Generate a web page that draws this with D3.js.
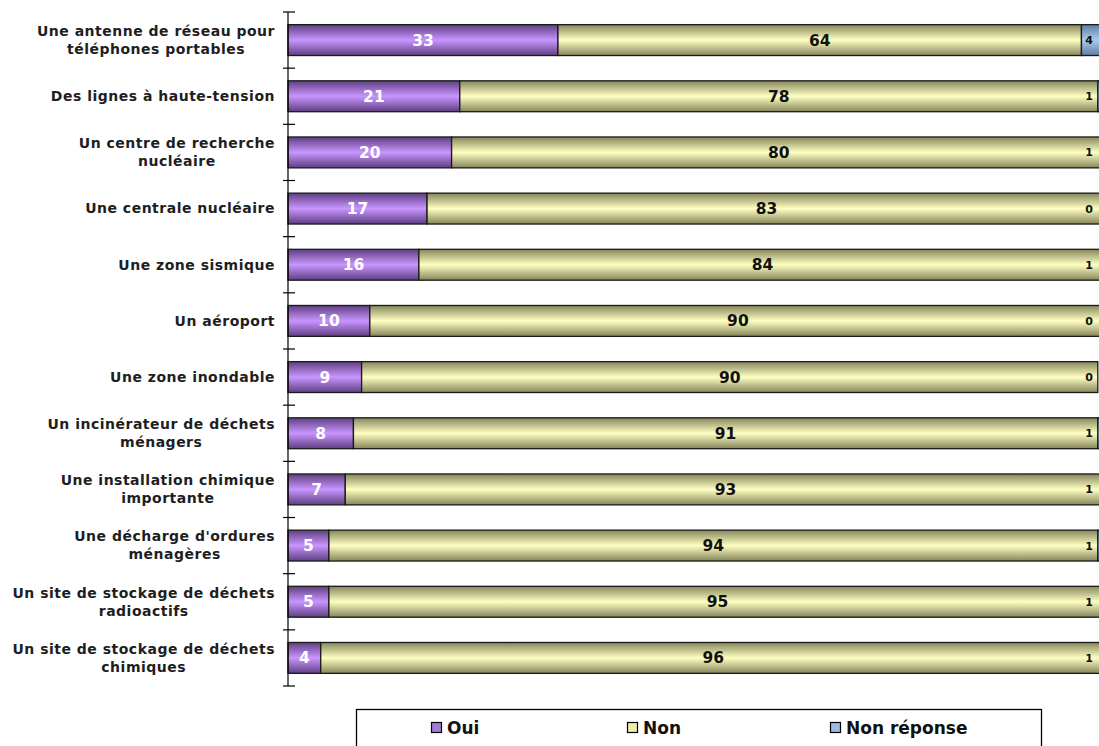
<!DOCTYPE html>
<html>
<head>
<meta charset="utf-8">
<script src="https://cdn.jsdelivr.net/npm/d3@7"></script>
<style>
  body { margin: 0; background: #fff; }
  svg { display: block; }
</style>
</head>
<body>
<div id="chart"></div>
<script>
// categories (each one is a list of label lines)
const categories = [
  ["Une antenne de réseau pour", "téléphones portables"],
  ["Des lignes à haute-tension"],
  ["Un centre de recherche", "nucléaire"],
  ["Une centrale nucléaire"],
  ["Une zone sismique"],
  ["Un aéroport"],
  ["Une zone inondable"],
  ["Un incinérateur de déchets", "ménagers"],
  ["Une installation chimique", "importante"],
  ["Une décharge d'ordures", "ménagères"],
  ["Un site de stockage de déchets", "radioactifs"],
  ["Un site de stockage de déchets", "chimiques"]
]
const oui = [33, 21, 20, 17, 16, 10, 9, 8, 7, 5, 5, 4]
const non = [64, 78, 80, 83, 84, 90, 90, 91, 93, 94, 95, 96]
const nonReponse = [4, 1, 1, 0, 1, 0, 0, 1, 1, 1, 1, 1]
const seriesNames = ["Oui", "Non", "Non réponse"]

const width = 1099, height = 746
const font = "'DejaVu Sans', Verdana, sans-serif"

const svg = d3.select("#chart").append("svg")
  .attr("width", width)
  .attr("height", height)

// vertical shading like the original bars
const shades = [
  {id: "g-oui", edge: "#5e3f80", mid: "#c995ff", sw: "#a57ad6"},
  {id: "g-non", edge: "#85855c", mid: "#ffffc2", sw: "#eeeeaa"},
  {id: "g-nr", edge: "#5f7d9e", mid: "#aacbf0", sw: "#9dbbe0"}
]
const defs = svg.append("defs")
shades.forEach(s => {
  const g = defs.append("linearGradient").attr("id", s.id)
    .attr("x1", 0).attr("x2", 0).attr("y1", 0).attr("y2", 1)
  g.append("stop").attr("offset", "0%").attr("stop-color", s.edge)
  g.append("stop").attr("offset", "50%").attr("stop-color", s.mid)
  g.append("stop").attr("offset", "100%").attr("stop-color", s.edge)
})

// plot runs a little past the right edge of the picture (cropped)
const x = d3.scaleLinear().domain([0, 100]).range([288, 1106])
const y = d3.scaleBand()
  .domain(d3.range(categories.length))
  .range([12, 686])
  .paddingInner(0.45)
  .paddingOuter(0.225)

const rows = categories.map((c, i) => ({i: i, Oui: oui[i], Non: non[i], "Non réponse": nonReponse[i]}))
const stacked = d3.stack().keys(seriesNames)(rows)

// bars
const layer = svg.append("g").selectAll("g")
  .data(stacked)
  .join("g")
  .attr("fill", (d, k) => `url(#${shades[k].id})`)

layer.selectAll("rect")
  .data(d => d)
  .join("rect")
  .attr("x", d => x(d[0]))
  .attr("y", d => y(d.data.i))
  .attr("width", d => x(d[1]) - x(d[0]))
  .attr("height", y.bandwidth())
  .attr("stroke", "#1a1a1a")
  .attr("stroke-width", 1.3)

// value labels
const labelStyle = [
  {fill: "#ffffff", size: 15.5},
  {fill: "#111111", size: 15.5},
  {fill: "#111111", size: 11}
]
stacked.forEach((s, k) => {
  svg.append("g").selectAll("text")
    .data(s)
    .join("text")
    .attr("x", d => {
      const c = (x(d[0]) + x(d[1])) / 2
      return k === 2 ? Math.min(c, width - 10) : c
    })
    .attr("y", d => y(d.data.i) + y.bandwidth() / 2)
    .attr("dy", "0.36em")
    .attr("text-anchor", "middle")
    .attr("font-family", font)
    .attr("font-weight", "bold")
    .attr("font-size", labelStyle[k].size)
    .attr("fill", labelStyle[k].fill)
    .text(d => d.data[s.key])
})

// axis line with crossing ticks at category boundaries
const axis = svg.append("g").attr("stroke", "#000").attr("stroke-width", 1.2)
axis.append("line")
  .attr("x1", x(0)).attr("x2", x(0))
  .attr("y1", y.range()[0]).attr("y2", y.range()[1])
axis.selectAll(".tick")
  .data(d3.range(categories.length + 1))
  .join("line")
  .attr("class", "tick")
  .attr("x1", x(0) - 5).attr("x2", x(0) + 7)
  .attr("y1", i => y.range()[0] + i * y.step())
  .attr("y2", i => y.range()[0] + i * y.step())

// category labels: block right aligned, lines centred in block
const labelRight = 275
const lineH = 18
categories.forEach((lines, i) => {
  const g = svg.append("g")
  const texts = g.selectAll("text")
    .data(lines)
    .join("text")
    .attr("font-family", font)
    .attr("font-weight", "bold")
    .attr("font-size", 14)
    .attr("letter-spacing", 0.5)
    .attr("fill", "#1e1e1e")
    .attr("text-anchor", "middle")
    .text(d => d)
  const widths = texts.nodes().map(n => n.getComputedTextLength())
  const blockW = d3.max(widths)
  const cy = y(i) + y.bandwidth() / 2
  texts
    .attr("x", labelRight - blockW / 2)
    .attr("y", (d, j) => cy + (j - (lines.length - 1) / 2) * lineH)
    .attr("dy", "0.35em")
})

// legend
const legend = svg.append("g")
legend.append("rect")
  .attr("x", 356.5).attr("y", 709.5)
  .attr("width", 685).attr("height", 60)
  .attr("fill", "#fff")
  .attr("stroke", "#000")
  .attr("stroke-width", 1.3)
const legendX = [431, 627, 830]
seriesNames.forEach((name, k) => {
  legend.append("rect")
    .attr("x", legendX[k] + 0.5).attr("y", 722.5)
    .attr("width", 10).attr("height", 10)
    .attr("fill", shades[k].sw)
    .attr("stroke", "#000")
    .attr("stroke-width", 1.2)
  legend.append("text")
    .attr("x", legendX[k] + 16)
    .attr("y", 727.5)
    .attr("dy", "0.36em")
    .attr("font-family", font)
    .attr("font-weight", "bold")
    .attr("font-size", 17)
    .attr("fill", "#111")
    .text(name)
})
</script>
</body>
</html>
